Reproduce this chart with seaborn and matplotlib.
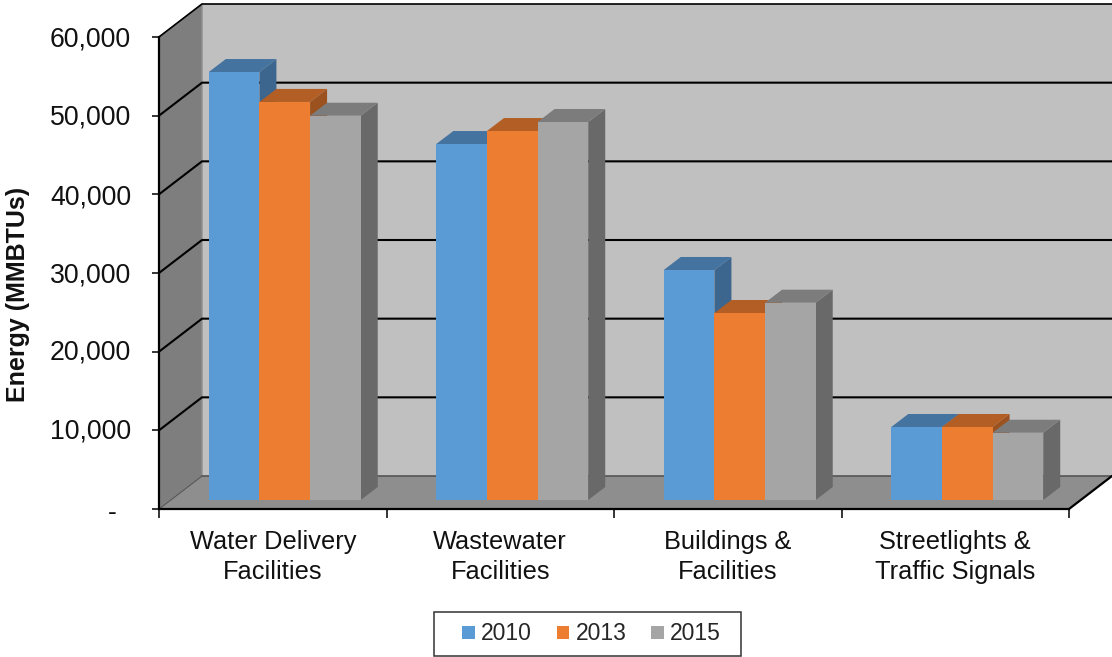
import matplotlib
matplotlib.use("Agg")
import matplotlib.pyplot as plt
import seaborn as sns
import pandas as pd
from matplotlib.patches import Polygon, Rectangle
from matplotlib.transforms import Affine2D, IdentityTransform

categories = ["Water Delivery\nFacilities", "Wastewater\nFacilities",
              "Buildings &\nFacilities", "Streetlights &\nTraffic Signals"]
years = ["2010", "2013", "2015"]
values_2010 = [54400, 45250, 29240, 9280]
values_2013 = [50600, 46900, 23770, 9280]
values_2015 = [48850, 48050, 25080, 8550]
y_ticks = [0, 10000, 20000, 30000, 40000, 50000, 60000]
y_tick_labels = ["-  ", "10,000", "20,000", "30,000", "40,000", "50,000", "60,000"]

W, H = 1112, 657
sns.set_style("white")
plt.rcParams["font.family"] = ["Liberation Sans", "DejaVu Sans"]

df = pd.DataFrame({
    "category": categories * 3,
    "year": [y for y in years for _ in categories],
    "energy": values_2010 + values_2013 + values_2015,
})

face = dict(zip(years, ["#5B9BD5", "#ED7D31", "#A5A5A5"]))
top = dict(zip(years, ["#4473A0", "#B25E24", "#7C7C7C"]))
side = dict(zip(years, ["#3C668E", "#9B521E", "#696969"]))

fig = plt.figure(figsize=(W / 100, H / 100), dpi=100, facecolor="white")
ax = fig.add_axes([159 / W, (H - 509) / H, 910 / W, 472 / H])
ax.patch.set_visible(False)

sns.barplot(data=df, x="category", y="energy", hue="year", palette=face,
            saturation=1, width=0.668, gap=0, dodge=True, ax=ax, linewidth=0)
ax.set_xlim(-0.5, 3.5)
ax.set_ylim(0, 60000)

DEPTH = (43, 33)          # full floor depth in pixels
BAR_SHIFT = (12, 9)       # bar front relative to chart front
BAR_DEPTH = (17, 13)      # bar depth
ident = IdentityTransform()


def px(x, y, dx=0, dy=0):
    p = ax.transData.transform((x, y))
    return (p[0] + dx, p[1] + dy)


x0, x1 = ax.get_xlim()
dx, dy = DEPTH
# walls
ax.add_patch(Polygon([px(x0, 0, dx, dy), px(x1, 0, dx, dy), px(x1, 60000, dx, dy), px(x0, 60000, dx, dy)],
                     transform=ident, fc="#C0C0C0", ec="none", zorder=0.5, clip_on=False))
ax.add_patch(Polygon([px(x0, 0), px(x0, 0, dx, dy), px(x0, 60000, dx, dy), px(x0, 60000)],
                     transform=ident, fc="#7E7E7E", ec="#8F8F8F", lw=1, zorder=0.6, clip_on=False))
ax.add_patch(Polygon([px(x0, 0), px(x1, 0), px(x1, 0, dx, dy), px(x0, 0, dx, dy)],
                     transform=ident, fc="#8E8E8E", ec="none", zorder=0.6, clip_on=False))
# floor edges
ax.plot(*zip(px(x0, 0, dx, dy), px(x1, 0, dx, dy)), transform=ident, color="#555555", lw=1.2, zorder=0.8, clip_on=False)
ax.plot(*zip(px(x0, 0), px(x0, 0, dx, dy)), transform=ident, color="#555555", lw=0.8, zorder=0.8, clip_on=False)
ax.plot(*zip(px(x1, 0), px(x1, 0, dx, dy)), transform=ident, color="black", lw=1.6, zorder=0.8, clip_on=False, solid_capstyle="round")
# gridlines on back + side wall
for v in y_ticks[1:]:
    ax.plot(*zip(px(x0, v), px(x0, v, dx, dy), px(x1, v, dx, dy)), transform=ident,
            color="black", lw=1.5 if v < 60000 else 1.2, zorder=0.9, clip_on=False, solid_joinstyle="miter")

# bars: fronts and their 3D faces, painted left to right
bars = []
for container, year in zip(ax.containers, years):
    for bar in container:
        bars.append((bar, year))
bars.sort(key=lambda item: item[0].get_x())
sx, sy = BAR_SHIFT
bx, by = BAR_DEPTH
for i, (bar, year) in enumerate(bars):
    z = 3 + i * 0.1
    xa, xb, h = bar.get_x(), bar.get_x() + bar.get_width(), bar.get_height()
    bar.set_transform(ax.transData + Affine2D().translate(sx, sy))
    bar.set_clip_on(False)
    bar.set_zorder(z + 0.02)
    ax.add_patch(Polygon([px(xb, 0, sx, sy), px(xb, 0, sx + bx, sy + by), px(xb, h, sx + bx, sy + by), px(xb, h, sx, sy)],
                         transform=ident, fc=side[year], ec="none", zorder=z, clip_on=False))
    ax.add_patch(Polygon([px(xa, h, sx, sy), px(xb, h, sx, sy), px(xb, h, sx + bx, sy + by), px(xa, h, sx + bx, sy + by)],
                         transform=ident, fc=top[year], ec="none", zorder=z + 0.01, clip_on=False))

# axes
for s in ["top", "right"]:
    ax.spines[s].set_visible(False)
for s in ["left", "bottom"]:
    ax.spines[s].set_color("black")
    ax.spines[s].set_linewidth(1.6)
    ax.spines[s].set_zorder(2)
ax.set_yticks(y_ticks, y_tick_labels, fontsize=19.2, color="#111111")
ax.tick_params(axis="y", length=5, width=1.1, color="black", pad=15, left=True)
for lab, shift in zip(ax.get_yticklabels(), [-1, 2, 2, 1, 0, 1, 1]):
    lab.set_transform(lab.get_transform() + Affine2D().translate(0, shift))
ax.set_xticks([-0.5, 0.5, 1.5, 2.5, 3.5], [""] * 5)
ax.tick_params(axis="x", which="major", length=6.5, width=1.1, color="black", bottom=True)
ax.set_xticks(range(4), categories, minor=True, fontsize=18.3, color="#111111", linespacing=1.3)
ax.tick_params(axis="x", which="minor", length=0, pad=15)
ax.set_xlabel("")
ax.set_ylabel("Energy (MMBTUs)", fontsize=18, fontweight="bold", color="#111111")
ax.yaxis.set_label_coords((30 - 159) / 910, (509 - 294) / 472)

# legend
sns.move_legend(ax, "center", bbox_to_anchor=(591.5 / W, 1 - 634 / H), bbox_transform=fig.transFigure,
                ncol=3, title=None, frameon=False, fontsize=16.5, handlelength=0.55, handleheight=0.5,
                handletextpad=0.27, columnspacing=1.09, borderpad=0, borderaxespad=0)
fig.add_artist(Rectangle((434, H - 656), 307, 44, transform=ident, fc="white", ec="#333333", lw=1.1, zorder=-1))

fig.savefig("out.png", dpi=100)
